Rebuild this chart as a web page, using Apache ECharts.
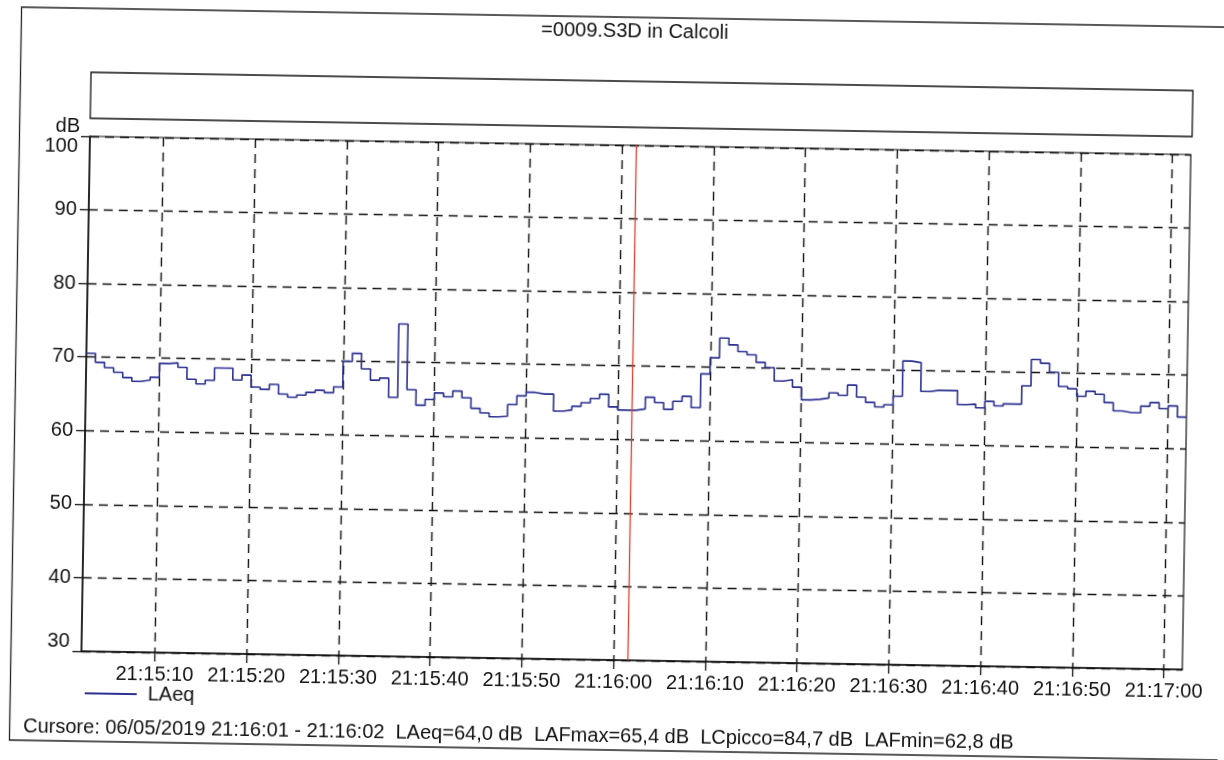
<!DOCTYPE html>
<html>
<head>
<meta charset="utf-8">
<title>=0009.S3D in Calcoli</title>
<script src="https://cdn.jsdelivr.net/npm/echarts@6/dist/echarts.min.js"></script>
<style>
    html, body { margin: 0; padding: 0; background: #fff; overflow: hidden; }
    /* the printout was scanned a little crooked */
    #chart { width: 1224px; height: 760px; transform: rotate(0.95deg); }
</style>
</head>
<body>
<div id="chart"></div>
<script>
// seconds counted from 21:15:00, one LAeq value per second (21:15:02 .. 21:17:01)
var startSec = 2;
var endSec = 122;
var laeq = [
    70.5, 69.3, 68.6, 68.0, 67.3, 66.8, 67.0, 67.4, 69.3, 69.4,
    68.8, 67.2, 66.6, 67.1, 68.8, 68.8, 67.2, 67.9, 66.3, 66.0,
    66.7, 65.4, 65.0, 65.3, 65.7, 66.0, 65.7, 66.5, 70.0, 71.1,
    69.0, 67.5, 67.8, 65.2, 75.2, 66.3, 64.2, 65.0, 65.9, 65.4,
    66.2, 65.3, 63.9, 63.3, 62.8, 62.9, 64.5, 65.7, 66.2, 66.0,
    66.0, 63.7, 63.9, 64.4, 64.9, 65.5, 66.1, 64.4, 64.0, 64.0,
    64.2, 65.8, 65.1, 64.2, 65.3, 66.0, 64.5, 69.1, 71.3, 74.0,
    73.1, 72.2, 71.8, 70.8, 70.1, 68.3, 68.5, 67.5, 65.8, 65.9,
    66.1, 66.8, 66.5, 67.9, 66.3, 65.6, 65.0, 65.3, 66.5, 71.3,
    71.1, 67.2, 67.4, 67.4, 67.4, 65.5, 65.6, 65.1, 66.0, 65.4,
    65.7, 65.7, 68.2, 71.8, 71.3, 70.1, 68.2, 67.9, 66.9, 67.6,
    67.2, 66.1, 65.0, 64.8, 64.8, 65.7, 66.2, 65.4, 65.8, 64.3
];
var tickSecs = [10, 20, 30, 40, 50, 60, 70, 80, 90, 100, 110, 120];
var tickLabels = ['21:15:10', '21:15:20', '21:15:30', '21:15:40', '21:15:50', '21:16:00',
                  '21:16:10', '21:16:20', '21:16:30', '21:16:40', '21:16:50', '21:17:00'];
var cursorSec = 61.5;   // cursore 21:16:01 - 21:16:02
var cursorText = 'Cursore: 06/05/2019 21:16:01 - 21:16:02  LAeq=64,0 dB  LAFmax=65,4 dB  LCpicco=84,7 dB  LAFmin=62,8 dB';

var font = '"Liberation Sans", Arial, sans-serif';
var ink = '#111';

var myChart = echarts.init(document.getElementById('chart'), null, { renderer: 'canvas' });

// step line: each value holds for its whole second, so repeat the last one at the end
var lineData = laeq.map(function (v, i) { return [startSec + i, v]; });
lineData.push([startSec + laeq.length, laeq[laeq.length - 1]]);

var option = {
    animation: false,
    backgroundColor: '#fff',
    title: [
        {
            text: '=0009.S3D in Calcoli',
            left: 624, top: 16, textAlign: 'center',
            textStyle: { fontFamily: font, fontSize: 20, fontWeight: 'normal', color: ink }
        },
        {
            text: cursorText,
            left: 24, top: 721,
            textStyle: { fontFamily: font, fontSize: 20, fontWeight: 'normal', color: ink }
        }
    ],
    graphic: [
        {   // outer frame of the print
            type: 'rect', silent: true,
            shape: { x: 15.5, y: 17, width: 1250, height: 733 },
            style: { fill: null, stroke: '#222', lineWidth: 1.3 }
        },
        {   // empty box above the plot
            type: 'rect', silent: true,
            shape: { x: 86, y: 81, width: 1102, height: 46 },
            style: { fill: null, stroke: '#111', lineWidth: 1.3 }
        }
    ],
    legend: {
        left: 85, top: 687,
        itemWidth: 52, itemHeight: 2, icon: 'rect',
        textStyle: { fontFamily: font, fontSize: 20, color: ink, padding: [0, 0, 0, 6] },
        data: ['LAeq']
    },
    grid: {
        left: 86, right: 37, top: 145, bottom: 100,
        show: true, borderColor: '#111', borderWidth: 1.2
    },
    xAxis: {
        type: 'value',
        min: startSec, max: endSec,
        axisLine: { show: true, lineStyle: { color: ink, width: 1.5 } },
        axisTick: { show: true, length: 9, customValues: tickSecs, lineStyle: { color: ink, width: 1.3 } },
        axisLabel: {
            customValues: tickSecs,
            margin: 12,
            fontFamily: font, fontSize: 20, color: ink,
            formatter: function (v) {
                var k = tickSecs.indexOf(v);
                return k >= 0 ? tickLabels[k] : '';
            }
        },
        splitLine: { show: true, lineStyle: { color: ink, type: [9, 6], width: 1.4 } }
    },
    yAxis: {
        type: 'value',
        min: 30, max: 100, interval: 10,
        name: 'dB',
        nameLocation: 'end',
        nameGap: 0,
        nameTextStyle: { fontFamily: font, fontSize: 20, color: ink, align: 'right', padding: [0, 10, 0, 0] },
        axisLine: { show: true, lineStyle: { color: ink, width: 1.5 } },
        axisTick: { show: true, length: 9, lineStyle: { color: ink, width: 1.3 } },
        axisLabel: {
            margin: 12,
            fontFamily: font, fontSize: 20, color: ink,
            formatter: function (v) {
                if (v === 100) return '{top|100}';
                if (v === 30) return '{bot|30}';
                return String(v);
            },
            rich: {
                top: { fontFamily: font, fontSize: 20, color: ink, padding: [20, 0, 0, 0] },
                bot: { fontFamily: font, fontSize: 20, color: ink, padding: [0, 0, 20, 0] }
            }
        },
        splitLine: { show: true, lineStyle: { color: ink, type: [9, 6], width: 1.4 } }
    },
    series: [
        {
            name: 'LAeq',
            type: 'line',
            step: 'end',
            showSymbol: false,
            data: lineData,
            itemStyle: { color: '#2b3190' },
            lineStyle: { color: '#2b3190', width: 1.6 },
            markLine: {
                silent: true,
                symbol: ['none', 'none'],
                label: { show: false },
                lineStyle: { color: '#d8402e', width: 1.3, type: 'solid' },
                data: [{ xAxis: cursorSec }]
            }
        }
    ]
};

myChart.setOption(option);
window.addEventListener('resize', myChart.resize);
</script>
</body>
</html>
